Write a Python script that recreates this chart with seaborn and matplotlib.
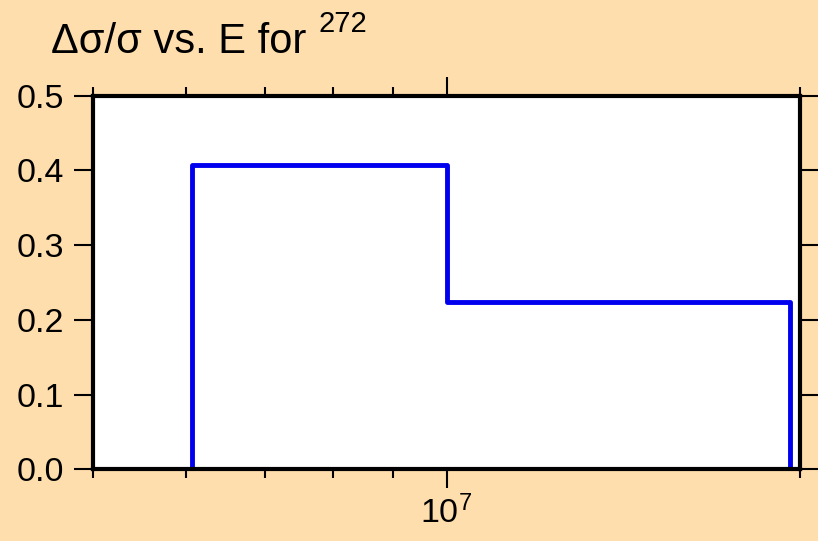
import numpy as np
import pandas as pd
import matplotlib
matplotlib.use("Agg")
import matplotlib.pyplot as plt
import matplotlib.ticker as mticker
import seaborn as sns

# Bin edges (energy) and relative uncertainty per bin
bin_edges = [6.07e6, 1.0e7, 1.963e7]
rel_unc = [0.407, 0.224]

# step outline: up at first edge, across each bin, down at last edge
x = np.repeat(bin_edges, 2)
y = np.concatenate([[0.0], np.repeat(rel_unc, 2), [0.0]])
df = pd.DataFrame({'energy': x, 'dsig': y})

sns.set_style('ticks')
plt.rcParams['font.family'] = ['Liberation Sans', 'DejaVu Sans']
plt.rcParams['mathtext.fontset'] = 'custom'
plt.rcParams['mathtext.rm'] = 'Liberation Sans'
plt.rcParams['mathtext.it'] = 'Liberation Sans'
plt.rcParams['text.color'] = 'black'
plt.rcParams['xtick.color'] = 'black'
plt.rcParams['ytick.color'] = 'black'

bg = '#FFDEAD'
fig = plt.figure(figsize=(8.18, 5.41), dpi=100, facecolor=bg)
ax = fig.add_axes([93/818, 1 - 469.3/541, (800 - 93)/818, (469.3 - 95.5)/541])
ax.set_facecolor('white')

sns.lineplot(data=df, x='energy', y='dsig', sort=False, estimator=None,
             color='#0000EE', linewidth=3.5, ax=ax)

ax.set_xscale('log')
ax.set_xlim(5e6, 2e7)
ax.set_ylim(0, 0.5)
ax.set_xlabel('')
ax.set_ylabel('')

ax.xaxis.set_major_locator(mticker.FixedLocator([1e7]))
ax.xaxis.set_major_formatter(mticker.FixedFormatter(['$10^7$']))
ax.xaxis.set_minor_locator(mticker.FixedLocator([5e6, 6e6, 7e6, 8e6, 9e6, 2e7]))
ax.xaxis.set_minor_formatter(mticker.NullFormatter())
ax.set_yticks([0.0, 0.1, 0.2, 0.3, 0.4, 0.5])
ax.set_yticklabels(['0.0', '0.1', '0.2', '0.3', '0.4', '0.5'])

for s in ax.spines.values():
    s.set_visible(True)
    s.set_linewidth(3.0)
    s.set_color('black')

ax.tick_params(which='both', direction='out', top=True, right=True,
               width=1.5, color='black', labelcolor='black', labelsize=24.5, pad=7)
ax.tick_params(which='major', length=14)
ax.tick_params(which='minor', length=6.5)
ax.tick_params(axis='x', which='major', pad=5)

fig.text(51/818, 1 - 53/541, 'Δσ/σ vs. E for', fontsize=30, ha='left', va='baseline')
fig.text(318/818, 1 - 31.5/541, '272', fontsize=21, ha='left', va='baseline')

fig.savefig('out.png', dpi=100, facecolor=bg)
